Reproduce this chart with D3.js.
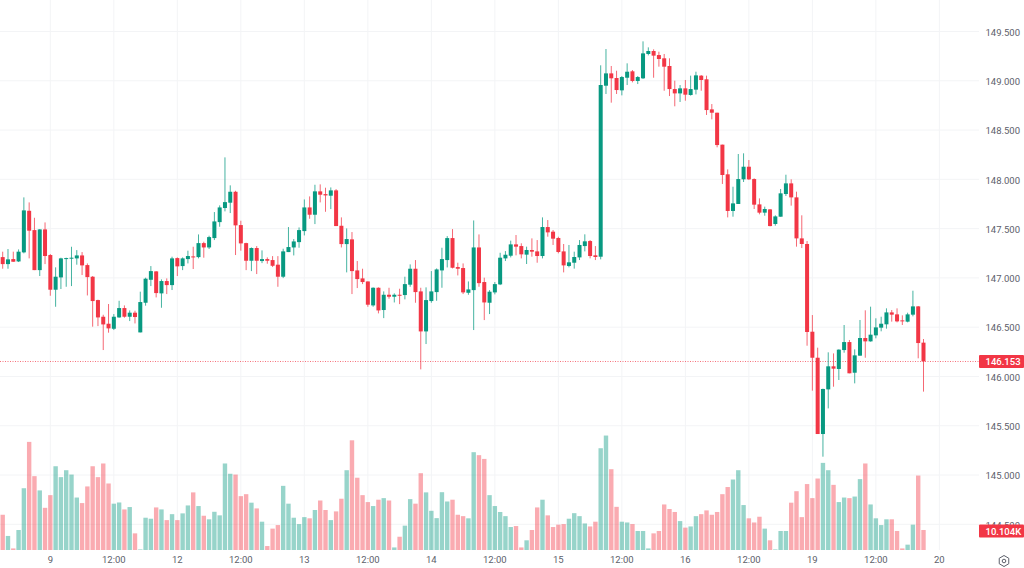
<!DOCTYPE html>
<html>
<head>
<meta charset="utf-8">
<script src="https://cdn.jsdelivr.net/npm/d3@7"></script>
<style>
html, body { margin: 0; padding: 0; background: #fff; }
svg { display: block; }
text { font-family: Roboto, sans-serif; }
</style>
</head>
<body>
<div id="chart"></div>
<script>
// hourly candles
var opens = [
147.211,147.140,147.191,147.167,147.259,147.681,147.485,147.079,147.492,147.232,
146.880,147.005,147.194,147.198,147.198,147.228,147.130,147.012,146.775,146.606,
146.535,146.484,146.599,146.694,146.606,146.647,146.447,146.748,146.981,147.066,
146.843,146.968,146.927,147.201,147.120,147.191,147.218,147.211,147.353,147.309,
147.404,147.566,147.709,147.763,147.874,147.536,147.353,147.174,147.303,147.171,
147.191,147.181,147.134,147.012,147.262,147.309,147.363,147.475,147.715,147.641,
147.878,147.850,147.834,147.888,147.529,147.343,147.391,147.076,146.995,146.964,
146.721,146.900,146.674,146.829,146.809,146.829,146.826,146.931,147.093,146.863,
146.457,146.765,146.856,147.076,147.181,147.404,147.110,147.100,146.849,146.876,
147.309,146.958,146.748,146.853,146.934,147.198,147.225,147.340,147.323,147.236,
147.283,147.269,147.222,147.516,147.469,147.405,147.269,147.121,147.154,147.208,
147.323,147.374,147.229,147.215,148.950,149.075,149.028,148.903,149.031,149.096,
148.998,149.025,149.272,149.302,149.261,149.228,149.150,148.916,148.872,148.923,
148.856,148.910,149.052,149.015,148.710,148.676,148.352,148.051,147.679,147.750,
148.000,148.128,148.003,147.746,147.662,147.695,147.547,147.621,147.851,147.959,
147.817,147.401,147.344,146.454,146.190,145.416,145.869,146.103,146.076,146.268,
146.349,146.038,146.211,146.390,146.356,146.417,146.495,146.529,146.650,146.630,
146.569,146.556,146.627,146.711,146.343]
var highs = [
147.266,147.293,147.266,147.289,147.817,147.766,147.610,147.495,147.563,147.242,
147.107,147.205,147.205,147.316,147.282,147.262,147.147,147.019,146.779,146.626,
146.735,146.633,146.768,146.721,146.670,146.667,146.860,147.002,147.120,147.069,
146.985,146.995,147.215,147.208,147.208,147.276,147.316,147.441,147.367,147.428,
147.668,147.736,148.223,147.939,147.884,147.580,147.357,147.309,147.323,147.279,
147.208,147.221,147.221,147.296,147.516,147.394,147.512,147.796,147.827,147.945,
147.949,147.915,147.918,147.901,147.614,147.502,147.465,147.171,147.093,146.964,
146.904,146.904,146.863,146.900,146.843,146.890,147.012,147.137,147.181,146.900,
146.904,147.069,147.096,147.306,147.424,147.495,147.154,147.147,146.964,147.583,
147.441,147.002,146.876,146.958,147.255,147.272,147.378,147.435,147.351,147.317,
147.401,147.384,147.614,147.587,147.486,147.418,147.344,147.334,147.266,147.384,
147.442,147.384,147.323,149.157,149.322,149.150,149.102,149.048,149.177,149.109,
149.048,149.400,149.339,149.319,149.295,149.272,149.228,149.001,148.957,149.008,
149.052,149.092,149.058,149.052,148.764,148.676,148.352,148.101,147.925,148.257,
148.264,148.196,148.010,147.807,147.723,147.699,147.635,147.902,148.047,148.000,
147.875,147.635,147.374,146.623,146.292,145.876,146.245,146.234,146.275,146.522,
146.370,146.275,146.573,146.671,146.708,146.590,146.606,146.691,146.674,146.691,
146.620,146.647,146.870,146.715,146.380]
var lows = [
147.093,147.093,147.164,147.161,147.249,147.198,147.079,147.019,147.140,146.819,
146.707,146.887,146.910,146.917,147.134,147.029,146.822,146.505,146.511,146.268,
146.444,146.471,146.596,146.596,146.562,146.538,146.447,146.718,146.917,146.802,
146.697,146.836,146.877,147.019,147.079,147.147,147.090,147.198,147.205,147.293,
147.384,147.519,147.675,147.658,147.232,147.276,147.079,147.069,147.039,147.150,
147.144,147.110,146.910,146.998,147.262,147.228,147.306,147.431,147.600,147.546,
147.766,147.671,147.698,147.526,147.309,147.056,146.836,146.897,146.937,146.707,
146.707,146.640,146.592,146.789,146.751,146.734,146.782,146.910,146.748,146.072,
146.329,146.748,146.768,146.900,147.106,147.096,147.025,146.836,146.829,146.471,
146.910,146.572,146.633,146.833,146.927,147.171,147.208,147.229,147.198,147.141,
147.215,147.154,147.198,147.418,147.334,147.249,147.056,147.107,147.094,147.181,
147.269,147.198,147.181,147.188,148.866,148.778,148.866,148.852,148.957,148.984,
148.967,149.018,149.258,149.031,149.143,148.899,148.845,148.741,148.785,148.798,
148.849,148.862,148.899,148.653,148.609,148.325,147.953,147.614,147.621,147.750,
147.973,147.993,147.699,147.645,147.631,147.523,147.530,147.621,147.831,147.733,
147.317,147.303,146.312,145.856,145.416,145.186,145.676,145.896,145.964,146.241,
146.032,145.930,146.211,146.190,146.353,146.387,146.458,146.485,146.556,146.549,
146.522,146.549,146.610,146.184,145.846]
var closes = [
147.140,147.188,147.164,147.266,147.685,147.479,147.079,147.492,147.222,146.880,
147.012,147.198,147.201,147.205,147.228,147.127,147.008,146.765,146.599,146.528,
146.488,146.606,146.694,146.606,146.647,146.603,146.755,146.992,147.069,146.846,
146.968,146.927,147.198,147.117,147.198,147.222,147.215,147.353,147.309,147.414,
147.573,147.715,147.769,147.874,147.533,147.350,147.174,147.303,147.174,147.191,
147.174,147.123,147.012,147.269,147.313,147.370,147.485,147.715,147.641,147.878,
147.844,147.837,147.888,147.526,147.343,147.394,147.069,146.988,146.958,146.728,
146.900,146.670,146.829,146.809,146.829,146.822,146.937,147.093,146.856,146.457,
146.775,146.863,147.086,147.191,147.404,147.103,147.093,146.853,146.883,147.309,
146.947,146.751,146.860,146.937,147.205,147.235,147.340,147.317,147.239,147.283,
147.266,147.222,147.516,147.462,147.398,147.263,147.127,147.158,147.212,147.334,
147.371,147.222,147.212,148.957,149.075,149.025,148.906,149.038,149.092,148.998,
149.038,149.278,149.302,149.255,149.221,149.143,148.916,148.872,148.923,148.859,
148.916,149.055,149.008,148.703,148.676,148.348,148.044,147.679,147.756,148.003,
148.128,148.000,147.743,147.662,147.699,147.526,147.624,147.858,147.959,147.817,
147.401,147.344,146.451,146.190,145.416,145.873,146.103,146.079,146.272,146.349,
146.032,146.214,146.390,146.356,146.424,146.498,146.535,146.650,146.627,146.559,
146.559,146.630,146.711,146.339,146.153]
var volumes = [
17.8,7.1,0.8,10.1,31.2,54.6,37.3,30.1,21.3,27.7,
42.3,36.8,40.3,38.1,26.5,23.7,32.1,42.3,36.8,43.7,
33.6,23.4,24.0,20.5,21.7,8.4,0.3,16.3,15.8,21.5,
20.5,15.1,18.1,15.1,18.5,22.5,29.1,22.2,17.3,15.5,
19.3,17.5,43.7,38.5,38.1,27.2,28.2,23.9,21.0,14.3,
2.0,10.8,12.6,32.4,23.4,16.3,13.1,16.6,16.0,20.2,
25.0,20.2,15.1,19.5,25.9,40.3,55.4,36.5,27.7,24.2,
22.2,25.4,26.2,25.0,1.3,6.7,12.3,25.7,23.4,38.8,
29.1,19.8,16.1,29.2,24.5,25.4,17.8,17.1,16.0,49.4,
47.9,46.0,27.7,22.2,19.2,17.1,11.6,12.1,1.3,4.9,
10.1,21.5,25.4,17.5,11.6,12.8,13.1,15.8,18.6,17.1,
13.4,11.9,14.3,51.4,57.8,40.8,21.8,14.3,13.9,13.1,
9.6,9.6,0.8,8.4,9.6,23.0,20.7,19.2,14.6,11.3,
11.9,17.1,18.1,20.0,17.8,19.2,28.2,31.8,35.6,40.3,
22.7,16.0,13.9,16.8,10.8,4.9,0.3,9.6,9.6,23.9,
29.7,16.6,33.3,26.2,36.1,44.0,40.3,32.9,24.2,26.5,
26.2,27.0,35.8,43.7,23.0,16.0,12.6,15.5,15.5,9.6,
0.8,2.7,12.8,37.6,10.104]

var priceTicks = [144.5,145,145.5,146,146.5,147,147.5,148,148.5,149,149.5]
var timeTicks = [9,21,33,45,57,69,81,93,105,117,129,141,153,165,177]
var timeLabels = ['9','12:00','12','12:00','13','12:00','14','12:00','15','12:00','16','12:00','19','12:00','20']
var lastPrice = 146.153
var lastVolumeLabel = '10.104K'

var WIDTH = 1024
var HEIGHT = 568
var PLOT_RIGHT = 979
var VOLUME_BASE = 550
var GREEN = '#089981'
var RED = '#f23645'
var GRID = '#f3f4f6'
var TEXT = '#5d606b'

var svg = d3.select('#chart').append('svg')
	.attr('width', WIDTH)
	.attr('height', HEIGHT)

var x = d3.scaleLinear().domain([0, 174]).range([2.7, 923.5])
var y = d3.scaleLinear().domain([144.5, 149.5]).range([524.3, 31.5])
var yVol = d3.scaleLinear().domain([0, 60]).range([VOLUME_BASE, 431.2])

var isUp = function(i) { return closes[i] >= opens[i] }
var color = function(i) { return isUp(i) ? GREEN : RED }

// GRID
svg.append('g').selectAll('line').data(priceTicks).enter().append('line')
	.attr('x1', 0).attr('x2', PLOT_RIGHT)
	.attr('y1', function(d) { return y(d) })
	.attr('y2', function(d) { return y(d) })
	.attr('stroke', GRID)
svg.append('g').selectAll('line').data(timeTicks).enter().append('line')
	.attr('x1', function(d) { return x(d) })
	.attr('x2', function(d) { return x(d) })
	.attr('y1', 0).attr('y2', VOLUME_BASE)
	.attr('stroke', GRID)

// VOLUME
svg.append('g').selectAll('rect').data(volumes).enter().append('rect')
	.attr('x', function(d, i) { return x(i) - 2.2 })
	.attr('width', 4.4)
	.attr('y', function(d) { return yVol(d) })
	.attr('height', function(d) { return VOLUME_BASE - yVol(d) })
	.attr('fill', function(d, i) { return color(i) })
	.attr('fill-opacity', 0.42)

// LAST PRICE LINE
svg.append('line')
	.attr('x1', 0).attr('x2', PLOT_RIGHT)
	.attr('y1', Math.round(y(lastPrice)) + 0.5).attr('y2', Math.round(y(lastPrice)) + 0.5)
	.attr('stroke', RED)
	.attr('stroke-opacity', 0.7)
	.attr('stroke-dasharray', '1 1.5')

// WICKS AND BODIES
svg.append('g').selectAll('line').data(opens).enter().append('line')
	.attr('x1', function(d, i) { return x(i) })
	.attr('x2', function(d, i) { return x(i) })
	.attr('y1', function(d, i) { return y(highs[i]) })
	.attr('y2', function(d, i) { return y(lows[i]) })
	.attr('stroke', function(d, i) { return color(i) })
	.attr('stroke-opacity', 0.75)
svg.append('g').selectAll('rect').data(opens).enter().append('rect')
	.attr('x', function(d, i) { return x(i) - 2 })
	.attr('width', 4)
	.attr('y', function(d, i) { return y(Math.max(opens[i], closes[i])) })
	.attr('height', function(d, i) { return Math.max(1, Math.abs(y(opens[i]) - y(closes[i]))) })
	.attr('fill', function(d, i) { return color(i) })

// AXES
var yAxis = d3.axisRight(y)
	.tickValues(priceTicks)
	.tickSize(0)
	.tickFormat(d3.format('.3f'))
var yG = svg.append('g').attr('transform', 'translate(985.5,0.7)').call(yAxis)
yG.select('.domain').remove()
yG.selectAll('text')
	.attr('x', 0)
	.attr('fill', TEXT)
	.style('font-size', '9.5px')

var xAxis = d3.axisBottom(x)
	.tickValues(timeTicks)
	.tickSize(0)
	.tickFormat(function(d, i) { return timeLabels[i] })
var xG = svg.append('g').attr('transform', 'translate(-0.5,' + VOLUME_BASE + ')').call(xAxis)
xG.select('.domain').remove()
xG.selectAll('text')
	.attr('y', 6)
	.attr('fill', TEXT)
	.style('font-size', '9.5px')

// PRICE AND VOLUME TAGS
var tags = [
	{ text: d3.format('.3f')(lastPrice), yc: y(lastPrice) },
	{ text: lastVolumeLabel, yc: 531 }
]
tags.forEach(function(t) {
	svg.append('rect')
		.attr('x', PLOT_RIGHT).attr('y', t.yc - 6.5)
		.attr('width', WIDTH - PLOT_RIGHT).attr('height', 13)
		.attr('rx', 1)
		.attr('fill', RED)
	svg.append('text')
		.attr('x', 985.5).attr('y', t.yc + 3.5)
		.attr('fill', '#fff')
		.style('font-size', '9.5px')
		.style('font-weight', 500)
		.text(t.text)
})

// SETTINGS ICON
var hex = d3.range(6).map(function(k) {
	var a = Math.PI / 3 * k + Math.PI / 6
	return [1004 + 5.5 * Math.cos(a), 561 + 5.5 * Math.sin(a)]
})
svg.append('path')
	.attr('d', d3.line()(hex) + 'Z')
	.attr('fill', 'none')
	.attr('stroke', TEXT)
svg.append('circle')
	.attr('cx', 1004).attr('cy', 561).attr('r', 1.8)
	.attr('fill', 'none')
	.attr('stroke', TEXT)
</script>
</body>
</html>
